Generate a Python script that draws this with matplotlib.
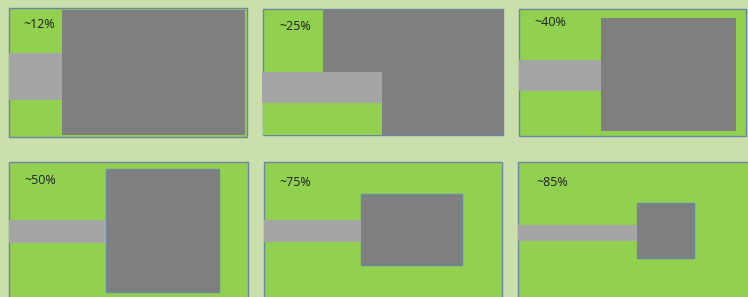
import matplotlib.pyplot as plt
from matplotlib.patches import Rectangle

# labels for the six panels
labels = ["~12%", "~25%", "~40%", "~50%", "~75%", "~85%"]

# panel boxes (x0, y0, x1, y1) in pixels
panels = [(9, 8, 247, 137), (263, 9, 503, 135), (519, 9, 746, 136),
          (9, 162, 248, 300), (264, 162, 502, 300), (518, 162, 750, 300)]
# dark grey blocks
blocks = [(62, 10, 245, 135), (323, 10, 503, 135), (601, 18, 736, 131),
          (106, 169, 219, 292), (361, 194, 462, 265), (637, 203, 694, 258)]
# light grey bars
bars = [(9, 53, 62, 100), (262, 72, 382, 103), (519, 60, 601, 91),
        (9, 220, 106, 243), (264, 220, 361, 242), (518, 225, 637, 241)]
# label centres
label_pos = [(39, 24), (295, 27), (550, 23), (40, 181), (295, 182), (552, 182)]
block_edge = [False, False, False, True, True, True]

bg = "#cadfab"
green = "#92d050"
dark = "#7f7f7f"
light = "#a5a5a5"
edge = "#6a86a6"

fig = plt.figure(figsize=(7.48, 2.97), dpi=100)
fig.patch.set_facecolor(bg)
ax = fig.add_axes([0, 0, 1, 1])
ax.set_xlim(0, 748)
ax.set_ylim(297, 0)
ax.axis("off")


def box(r, **kw):
    ax.add_patch(Rectangle((r[0], r[1]), r[2] - r[0], r[3] - r[1], **kw))


for i in range(6):
    box(panels[i], facecolor=green, edgecolor=edge, linewidth=1.0)
    box(blocks[i], facecolor=dark, edgecolor=edge if block_edge[i] else "none", linewidth=1.0)
    if i == 1:
        # green strip under the bar in the ~25% panel
        box((263, 103, 382, 135), facecolor=green, edgecolor="none")
    box(bars[i], facecolor=light, edgecolor="none")
    ax.text(label_pos[i][0], label_pos[i][1], labels[i], ha="center", va="center",
            fontsize=9, color="#1e1e1e", family="Open Sans")

fig.savefig("out.png", dpi=100, facecolor=bg)
